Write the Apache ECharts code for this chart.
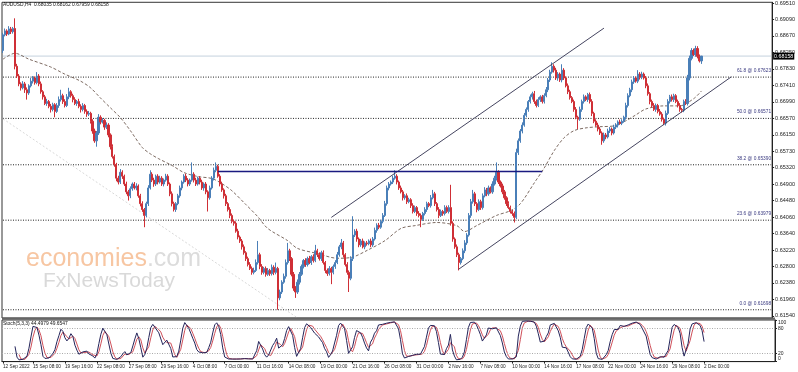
<!DOCTYPE html>
<html><head><meta charset="utf-8">
<script src="https://cdn.jsdelivr.net/npm/echarts@6/dist/echarts.min.js"></script>
<style>html,body{margin:0;padding:0;background:#fff}#c{width:798px;height:372px}</style>
</head><body><div id="c"></div>
<script>
// ---- data (prices in pips: 6815 = 0.6815) ----
const firstOpen = 6830;
const closes = [
6870,6880,6872,6885,6878,6886,6790,6765,6745,6735,6745,6730,6722,6740,6752,6760,
6748,6765,6745,6725,6712,6695,6700,6688,6680,6692,6675,6690,6705,6715,6700,6690,
6712,6725,6715,6705,6695,6700,6688,6680,6690,6675,6668,6670,6650,6625,6600,6620,
6660,6648,6652,6635,6640,6615,6585,6560,6540,6505,6495,6520,6510,6490,6470,6460,
6478,6490,6480,6485,6460,6440,6425,6410,6440,6480,6515,6500,6490,6510,6495,6505,
6490,6500,6510,6490,6465,6440,6425,6440,6460,6480,6495,6510,6500,6490,6500,6515,
6500,6490,6505,6495,6480,6490,6470,6455,6480,6505,6525,6535,6510,6490,6475,6460,
6440,6425,6410,6395,6390,6370,6355,6345,6330,6315,6300,6285,6275,6265,6270,6290,
6310,6280,6265,6275,6260,6270,6262,6278,6265,6275,6200,6215,6240,6255,6290,6320,
6300,6260,6225,6215,6240,6260,6280,6295,6285,6300,6290,6305,6295,6320,6310,6300,
6315,6290,6270,6262,6275,6265,6280,6290,6310,6330,6340,6310,6285,6265,6250,6300,
6360,6370,6350,6335,6345,6330,6340,6338,6345,6335,6350,6372,6385,6380,6395,6410,
6440,6480,6490,6495,6505,6510,6495,6480,6470,6455,6460,6445,6450,6435,6420,6430,
6415,6410,6400,6415,6425,6440,6435,6455,6465,6440,6425,6410,6420,6415,6430,6420,
6430,6390,6350,6330,6310,6290,6300,6320,6340,6360,6410,6445,6465,6440,6425,6445,
6430,6460,6475,6465,6480,6470,6490,6505,6520,6495,6485,6470,6455,6440,6430,6420,
6415,6405,6570,6600,6625,6640,6665,6680,6700,6712,6720,6700,6690,6705,6712,6700,
6715,6730,6755,6775,6790,6780,6760,6770,6755,6780,6760,6740,6725,6710,6700,6680,
6660,6655,6680,6700,6712,6705,6718,6700,6670,6650,6640,6630,6620,6600,6615,6610,
6625,6630,6620,6635,6640,6648,6645,6650,6660,6690,6715,6730,6750,6760,6752,6770,
6762,6770,6760,6740,6720,6700,6690,6680,6690,6675,6668,6655,6645,6670,6700,6712,
6705,6715,6700,6690,6680,6678,6700,6695,6760,6810,6830,6820,6835,6815,6803.5,6815.8
];
const upWick = [
5,6,4,7,5,4,26,6,5,4,7,5,6,4,8,5,
4,10,5,6,4,5,7,4,6,5,4,6,8,15,5,6,
7,10,4,5,6,4,7,5,6,4,5,6,4,5,6,5,
8,5,6,4,7,5,4,6,5,4,6,8,5,4,6,5,
6,4,5,7,4,5,6,4,5,7,10,5,6,4,5,6,
5,4,6,5,4,6,5,4,5,6,4,5,6,5,4,30,
5,6,4,5,6,4,5,4,6,5,7,10,4,5,6,4,
5,4,6,5,4,5,6,4,5,6,4,5,6,5,7,8,
35,5,6,4,5,6,4,7,5,15,4,6,5,7,8,20,
5,4,6,5,7,6,5,4,6,5,7,4,6,15,5,6,
5,6,4,5,6,4,5,6,7,5,10,5,4,6,5,6,
48,5,6,4,5,6,4,5,4,6,5,7,5,6,4,6,
7,6,5,4,6,15,5,4,6,5,4,6,5,4,6,5,
4,6,5,4,6,5,4,7,10,5,4,6,5,4,6,5,
6,58,5,4,6,5,4,6,7,5,6,7,10,5,4,6,
5,6,7,5,6,4,7,6,25,5,4,6,5,4,6,5,
4,5,10,6,5,7,6,5,4,6,5,7,5,6,4,5,
6,7,5,6,10,5,6,5,4,15,5,4,6,5,4,5,
6,4,7,5,6,4,4,5,6,4,5,6,5,4,6,5,
6,5,4,6,5,4,6,5,4,7,6,5,6,5,4,10,
5,6,4,5,6,4,5,6,5,4,6,5,4,7,6,5,
6,5,4,5,6,4,5,6,8,7,6,5,7,6,5,0.4
];
const downWick = [
6,4,5,3,6,5,8,5,6,7,4,8,17,5,4,6,
5,4,6,5,7,4,6,5,8,5,15,4,6,5,6,5,
4,6,5,7,4,6,5,8,5,6,7,5,6,7,5,15,
5,6,4,7,5,6,7,5,6,8,6,5,7,5,6,12,
6,5,4,6,5,7,6,30,5,6,4,5,7,5,6,4,
5,6,4,5,6,7,5,6,4,5,6,4,5,6,5,4,
6,5,4,6,5,7,6,35,5,4,6,5,4,6,5,7,
6,5,7,5,6,4,6,5,7,5,6,5,4,6,5,4,
5,7,6,5,6,4,6,5,7,5,30,6,5,4,6,5,
6,5,7,15,5,6,4,5,6,5,4,6,5,4,6,5,
6,5,7,6,5,30,5,6,4,5,6,7,5,6,35,5,
6,5,7,6,5,4,6,5,4,6,5,4,6,5,4,5,
4,5,6,4,5,4,6,5,4,7,5,6,4,6,5,4,
6,5,20,4,5,6,4,5,4,6,5,7,4,6,5,4,
5,6,7,5,6,20,5,4,6,5,4,6,5,6,7,4,
6,5,4,6,5,4,5,4,6,5,4,6,5,6,4,5,
6,13,4,6,5,6,4,5,6,5,7,6,5,4,6,5,
5,4,6,5,4,6,5,7,5,6,5,4,6,5,4,6,
5,25,4,6,5,4,6,5,7,5,4,6,5,10,5,6,
4,5,6,4,5,6,4,5,4,6,5,4,6,5,4,5,
6,5,4,6,5,7,5,4,6,5,4,6,5,6,4,5,
5,6,4,5,6,6,5,4,5,6,5,4,6,5,4,7.6
];
const timeLabels = ['12 Sep 2022','15 Sep 08:00','19 Sep 16:00','22 Sep 08:00','27 Sep 08:00','29 Sep 16:00',
 '4 Oct 08:00','7 Oct 00:00','11 Oct 16:00','14 Oct 08:00','19 Oct 00:00','21 Oct 16:00','26 Oct 08:00',
 '31 Oct 00:00','2 Nov 16:00','7 Nov 08:00','10 Nov 00:00','14 Nov 16:00','17 Nov 08:00','22 Nov 00:00',
 '24 Nov 16:00','29 Nov 08:00','2 Dec 00:00'];
const timeLabelBars = [0,15,31,47,63,79,95,111,127,143,159,175,191,207,223,239,255,271,287,303,319,335,351];
const priceTicks = [0.69510,0.69090,0.68670,0.68250,0.67830,0.67410,0.66990,0.66570,0.66150,0.65730,
 0.65320,0.64900,0.64480,0.64060,0.63640,0.63220,0.62800,0.62380,0.61960,0.61540];
const stochTicks = [0,20,80,100];
const maBars = [0,6,13,24,31,39,44,49,54,59,64,70,74,78,85,91,98,105,110,115,122,128,133,143,148,158,168,175,
 183,192,200,207,218,228,232,238,248,255,260,267,272,277,282,287,293,300,307,313,318,323,332,340,347,351];
const maValues = [6808,6823,6808,6788,6770,6752,6735,6709,6684,6659,6626,6583,6567,6555,6537,6519,6509,6504,
 6491,6473,6438,6407,6377,6346,6326,6313,6301,6303,6321,6346,6377,6384,6392,6384,6369,6384,6410,6422,6440,
 6493,6531,6575,6608,6626,6633,6636,6638,6651,6666,6681,6689,6689,6707,6727];
const fibLevels = [0.67623,0.66571,0.65390,0.63979,0.61698];
const fibNames = ['61.8','50.0','38.2','23.6','0.0'];
const lastPrice = 0.68158;
const channelUpper = [[165,0.6405],[302,0.6887]];
const channelLower = [[229,0.6273],[366,0.6763]];
const resistanceLine = [[108,0.6522],[271,0.6522]];
const faintLine = [[0,0.6656],[148,0.6149]];
const headerText = 'AUDUSD,H4  0.68035 0.68162 0.67959 0.68158';
const stochText = 'Stoch(5,3,3) 44.4979 49.6547';

// ---- build ----
const SLOTS = 387;
const P = 10000;
const ohlc = [], highs = [], lows = [];
for (let i = 0; i < closes.length; i++) {
  const o = i === 0 ? firstOpen : closes[i-1];
  const c = closes[i];
  const h = Math.max(o, c) + upWick[i];
  const l = Math.min(o, c) - downWick[i];
  highs.push(h); lows.push(l);
  ohlc.push([o/P, c/P, l/P, h/P]);
}
// Stochastic (5,3,3)
const kArr = [], dArr = [];
const num = [], den = [];
for (let i = 0; i < closes.length; i++) {
  if (i < 4) { num.push(null); den.push(null); continue; }
  let hh = -Infinity, ll = Infinity;
  for (let j = i-4; j <= i; j++) { hh = Math.max(hh, highs[j]); ll = Math.min(ll, lows[j]); }
  num.push(closes[i]-ll); den.push(hh-ll);
}
for (let i = 0; i < closes.length; i++) {
  if (i < 6) { kArr.push(null); continue; }
  const n = num[i]+num[i-1]+num[i-2], d = den[i]+den[i-1]+den[i-2];
  kArr.push(d === 0 ? 100 : 100*n/d);
}
for (let i = 0; i < closes.length; i++) {
  if (i < 8) { dArr.push(null); continue; }
  dArr.push((kArr[i]+kArr[i-1]+kArr[i-2])/3);
}
const labelMap = {};
timeLabelBars.forEach((b, k) => labelMap[b] = timeLabels[k]);
const cats = Array.from({length: SLOTS}, (_, i) => String(i));
const maData = maBars.map((b, k) => [b, maValues[k]/P]);
const hLine = (v) => [[0, v], [SLOTS - 1, v]];

const FONT = 'Liberation Sans';
const fibSeries = fibLevels.map((v, k) => ({
  type: 'line', xAxisIndex: 0, yAxisIndex: 0, data: hLine(v), symbol: 'none', silent: true, z: 2, clip: false,
  lineStyle: {color: '#222', width: 1, type: [1, 1.5]},
  endLabel: {show: true, formatter: fibNames[k] + ' @ ' + v.toFixed(5), offset: [0, -4],
    align: 'right', verticalAlign: 'bottom', distance: 0, fontSize: 4.8, fontFamily: FONT, color: '#3a3a80'}
}));

const chart = echarts.init(document.getElementById('c'), null, {renderer: 'canvas'});
chart.setOption({
  animation: false,
  backgroundColor: '#fff',
  grid: [
    {left: 2, right: 23, top: 1, height: 317, show: true, borderColor: '#333', borderWidth: 1},
    {left: 2, right: 23, top: 320, height: 41.6, show: true, borderColor: '#333', borderWidth: 1}
  ],
  xAxis: [
    {type: 'category', gridIndex: 0, data: cats, boundaryGap: true,
     axisLine: {show: false}, axisTick: {show: false}, axisLabel: {show: false}, splitLine: {show: false}},
    {type: 'category', gridIndex: 1, data: cats, boundaryGap: true,
     axisLine: {show: true, lineStyle: {color: '#222', width: 1}},
     axisTick: {show: true, length: 2, alignWithLabel: true, interval: (i) => labelMap[i] !== undefined, lineStyle: {color: '#222'}},
     axisLabel: {show: true, interval: (i) => labelMap[i] !== undefined, formatter: (v, i) => labelMap[i] || '',
       align: 'left', margin: 2.5, fontSize: 4.7, fontFamily: FONT, color: '#222'},
     splitLine: {show: false}}
  ],
  yAxis: [
    {type: 'value', gridIndex: 0, position: 'right', min: 0.61488, max: 0.69528, scale: true,
     axisLine: {show: true, lineStyle: {color: '#222', width: 1}},
     axisTick: {show: true, length: 2, customValues: priceTicks, lineStyle: {color: '#222'}},
     axisLabel: {show: true, customValues: priceTicks, formatter: (v) => v.toFixed(5), margin: 3,
       fontSize: 5.5, fontFamily: FONT, color: '#222'},
     splitLine: {show: false}},
    {type: 'value', gridIndex: 1, position: 'right', min: 0, max: 100,
     axisLine: {show: true, lineStyle: {color: '#222', width: 1}},
     axisTick: {show: true, length: 2, customValues: stochTicks, lineStyle: {color: '#222'}},
     axisLabel: {show: true, customValues: stochTicks, margin: 3, fontSize: 5, fontFamily: FONT, color: '#222',
       verticalAlignMaxLabel: 'top', verticalAlignMinLabel: 'bottom'},
     splitLine: {show: false}}
  ],
  graphic: [
    {type: 'rect', shape: {x: 2, y: 317.5, width: 773, height: 2.3}, style: {fill: '#666'}, z: 50},
    {type: 'text', left: 3, top: 2, style: {text: headerText, font: `4.9px "${FONT}"`, fill: '#111'}, z: 60},
    {type: 'text', left: 3, top: 321.5, style: {text: stochText, font: `4.9px "${FONT}"`, fill: '#111'}, z: 60},
    {type: 'text', x: 26, y: 259, style: {text: '{a|economies}{b|.com}', verticalAlign: 'middle',
      rich: {a: {fill: '#f7c6a2', font: `25px "${FONT}"`}, b: {fill: '#dcdcdc', font: `25px "${FONT}"`}}}, z: 1},
    {type: 'text', x: 43, y: 281.5, style: {text: 'FxNewsToday', verticalAlign: 'middle', fill: '#d9d9d9', font: `21px "${FONT}"`}, z: 1}
  ],
  series: fibSeries.concat([
    {type: 'line', xAxisIndex: 0, yAxisIndex: 0, data: hLine(lastPrice), symbol: 'none', silent: true, z: 2, clip: false,
     lineStyle: {color: '#c5d2de', width: 1},
     endLabel: {show: true, formatter: lastPrice.toFixed(5), offset: [2, 0], distance: 0, backgroundColor: '#000', color: '#fff',
       padding: [1.2, 1, 0.8, 1], fontSize: 5.3, fontFamily: FONT}},
    {type: 'line', xAxisIndex: 0, yAxisIndex: 0, data: faintLine, symbol: 'none', silent: true,
     lineStyle: {color: '#d8d8d8', width: 1, type: [2, 2]}, z: 2},
    {type: 'line', xAxisIndex: 0, yAxisIndex: 0, data: maData, symbol: 'none', smooth: 0.3, silent: true,
     lineStyle: {color: '#6e5a50', width: 0.9, type: [3, 2]}, z: 3},
    {type: 'candlestick', xAxisIndex: 0, yAxisIndex: 0, data: ohlc, barWidth: 1.6, silent: true,
     itemStyle: {color: '#4a7fb8', color0: '#cf2f36', borderColor: '#4a7fb8', borderColor0: '#cf2f36', borderWidth: 1},
     z: 5},
    {type: 'line', xAxisIndex: 0, yAxisIndex: 0, data: channelUpper, symbol: 'none', silent: true,
     lineStyle: {color: '#454560', width: 1}, z: 6},
    {type: 'line', xAxisIndex: 0, yAxisIndex: 0, data: channelLower, symbol: 'none', silent: true,
     lineStyle: {color: '#454560', width: 1}, z: 6},
    {type: 'line', xAxisIndex: 0, yAxisIndex: 0, data: resistanceLine, symbol: 'none', silent: true,
     lineStyle: {color: '#1a1a80', width: 1.5}, z: 6},
    {type: 'line', xAxisIndex: 1, yAxisIndex: 1, data: dArr, symbol: 'none', silent: true,
     lineStyle: {color: '#d0505a', width: 1}, z: 4,
     markLine: {symbol: 'none', silent: true, label: {show: false},
       lineStyle: {color: '#aaa', width: 1, type: [1, 1.5]}, data: [{yAxis: 80}, {yAxis: 20}]}},
    {type: 'line', xAxisIndex: 1, yAxisIndex: 1, data: kArr, symbol: 'none', silent: true,
     lineStyle: {color: '#24245a', width: 1}, z: 5}
  ])
});
</script></body></html>
